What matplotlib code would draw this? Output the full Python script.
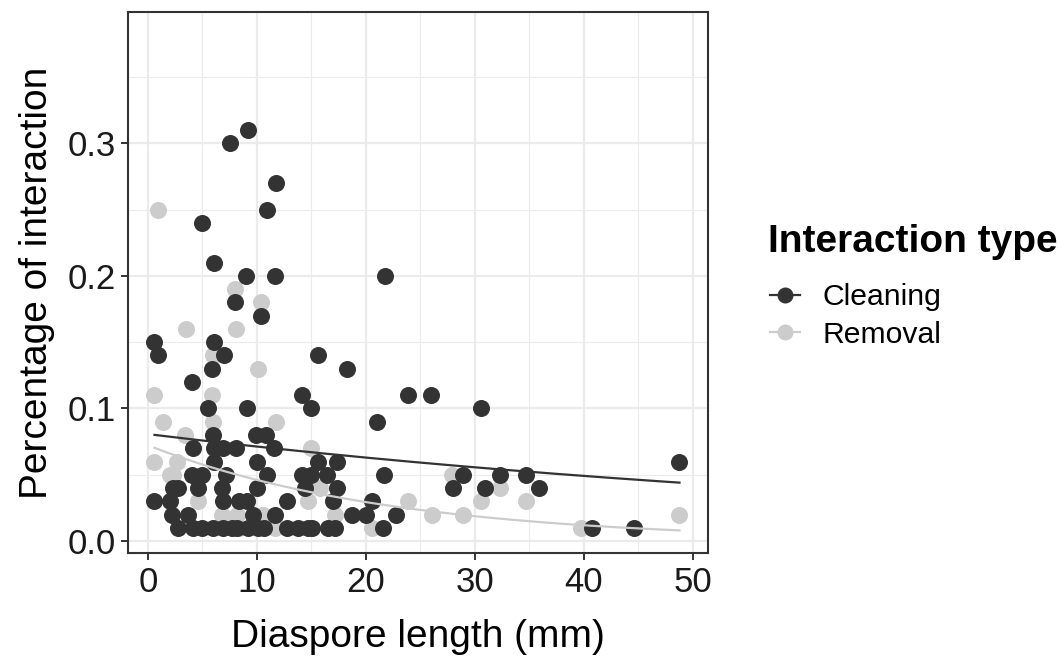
import numpy as np
import matplotlib
matplotlib.use('Agg')
import matplotlib.pyplot as plt
from matplotlib.lines import Line2D

plt.rcParams['font.family'] = ['Liberation Sans', 'DejaVu Sans']

# Values.
cleaning_x = [9.2, 7.5, 11.8, 10.9, 5.0, 6.1, 9.0, 11.7, 21.8,
              8.0, 10.4, 0.6, 0.9, 6.1, 7.0, 5.9, 4.0, 15.6, 18.3,
              14.1, 23.9, 26.0, 15.0, 30.6, 5.5, 9.1, 21.0,
              6.0, 9.9, 10.8,
              4.1, 6.1, 6.9, 8.1, 11.6,
              6.1, 10.0, 15.6, 17.4, 48.8,
              4.0, 5.0, 7.2, 10.9, 14.1, 15.0, 16.4, 21.7, 28.9, 32.3, 34.7,
              2.3, 2.8, 4.6, 6.8, 10.0, 14.4, 17.4, 28.0, 30.9, 35.9,
              0.6, 2.0, 6.9, 8.4, 9.1, 12.8, 17.0, 20.6,
              2.2, 3.7, 9.6, 11.7, 18.7, 20.0, 22.8,
              2.8, 4.1, 5.0, 6.0, 6.9, 7.7, 8.2, 9.2, 10.1, 10.7, 12.8,
              13.8, 14.7, 15.1, 16.5, 17.2, 21.6, 40.8, 44.6]
cleaning_y = [0.31, 0.30, 0.27, 0.25, 0.24, 0.21, 0.20, 0.20, 0.20,
              0.18, 0.17, 0.15, 0.14, 0.15, 0.14, 0.13, 0.12, 0.14, 0.13,
              0.11, 0.11, 0.11, 0.10, 0.10, 0.10, 0.10, 0.09,
              0.08, 0.08, 0.08,
              0.07, 0.07, 0.07, 0.07, 0.07,
              0.06, 0.06, 0.06, 0.06, 0.06,
              0.05, 0.05, 0.05, 0.05, 0.05, 0.05, 0.05, 0.05, 0.05, 0.05, 0.05,
              0.04, 0.04, 0.04, 0.04, 0.04, 0.04, 0.04, 0.04, 0.04, 0.04,
              0.03, 0.03, 0.03, 0.03, 0.03, 0.03, 0.03, 0.03,
              0.02, 0.02, 0.02, 0.02, 0.02, 0.02, 0.02,
              0.01, 0.01, 0.01, 0.01, 0.01, 0.01, 0.01, 0.01, 0.01, 0.01, 0.01,
              0.01, 0.01, 0.01, 0.01, 0.01, 0.01, 0.01, 0.01]

removal_x = [0.9, 8.0, 10.4, 3.5, 8.1, 6.0, 10.1, 0.6, 5.9, 1.4, 6.0, 11.8,
             3.4, 15.0, 0.6, 2.7, 2.0, 2.3, 27.9, 15.8, 32.3, 4.6, 14.7,
             23.9, 30.6, 34.7, 6.8, 8.2, 10.6, 17.2, 26.1, 28.9, 48.8,
             8.4, 11.7, 20.6, 39.8]
removal_y = [0.25, 0.19, 0.18, 0.16, 0.16, 0.14, 0.13, 0.11, 0.11, 0.09, 0.09, 0.09,
             0.08, 0.07, 0.06, 0.06, 0.05, 0.05, 0.05, 0.04, 0.04, 0.03, 0.03,
             0.03, 0.03, 0.03, 0.02, 0.02, 0.02, 0.02, 0.02, 0.02, 0.02,
             0.01, 0.01, 0.01, 0.01]

# Log-linear fit curves (intercept, slope).
cleaning_fit = (0.0807, -0.01238)
removal_fit = (0.0723, -0.0449)

groups = ['Cleaning', 'Removal']
colors = {'Cleaning': '#333333', 'Removal': '#CCCCCC'}


def plot_interaction():
    fig = plt.figure(figsize=(10.58, 6.6), dpi=100)
    ax = fig.add_axes([0.121, 0.162, 0.548, 0.820])

    # Removal first so cleaning points sit on top.
    ax.scatter(removal_x, removal_y, s=150, color=colors['Removal'],
               linewidths=0, zorder=3)
    ax.scatter(cleaning_x, cleaning_y, s=150, color=colors['Cleaning'],
               linewidths=0, zorder=4)

    xs = np.linspace(min(cleaning_x + removal_x), max(cleaning_x + removal_x), 200)
    for name, (a, b) in zip(groups, [cleaning_fit, removal_fit]):
        ax.plot(xs, a * np.exp(b * xs), color=colors[name], lw=1.6, zorder=5)

    # theme_bw look.
    ax.set_xlim(-1.83, 51.4)
    ax.set_ylim(-0.009, 0.399)
    ax.set_xticks([0, 10, 20, 30, 40, 50])
    ax.set_xticks([5, 15, 25, 35, 45], minor=True)
    ax.set_yticks([0.0, 0.1, 0.2, 0.3])
    ax.set_yticklabels(['0.0', '0.1', '0.2', '0.3'])
    ax.set_yticks([0.05, 0.15, 0.25, 0.35], minor=True)
    ax.grid(which='major', color='#EBEBEB', lw=1.6, zorder=0)
    ax.grid(which='minor', color='#EBEBEB', lw=0.8, zorder=0)
    ax.set_axisbelow(True)
    for sp in ax.spines.values():
        sp.set_color('#333333')
        sp.set_linewidth(1.5)
    ax.tick_params(which='major', length=5, width=1.4, color='#333333',
                   labelsize=25, labelcolor='#1a1a1a', pad=4)
    ax.tick_params(which='minor', length=0)

    ax.set_xlabel('Diaspore length (mm)', fontsize=28, labelpad=15)
    ax.set_ylabel('Percentage of interaction', fontsize=28, labelpad=8.5)

    # Legend: title placed separately to match the larger gap to the keys.
    fig.text(768 / 1058, 1 - 242 / 660, 'Interaction type', fontsize=28,
             fontweight='bold', ha='left', va='center')
    handles = [Line2D([0], [0], color=colors[g], lw=1.6, marker='o',
                      markersize=11.5, markeredgewidth=0) for g in groups]
    fig.legend(handles, groups, loc='center left',
               bbox_to_anchor=(770 / 1058, 1 - 316 / 660), frameon=False,
               fontsize=21.7, handlelength=1.0, handletextpad=0.75,
               labelspacing=0.3, borderaxespad=0, borderpad=0)

    fig.savefig('out.png', dpi=100)


if __name__ == '__main__':
    plot_interaction()
